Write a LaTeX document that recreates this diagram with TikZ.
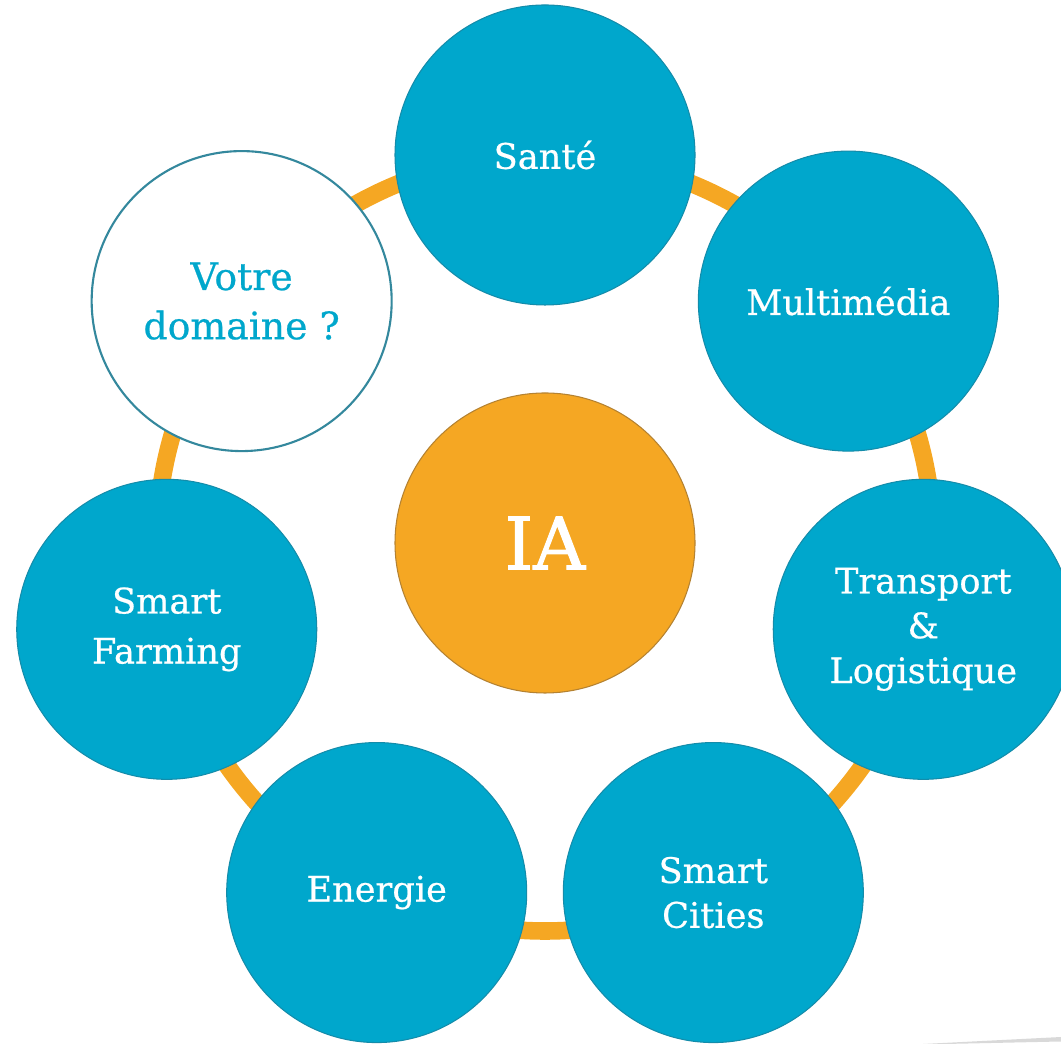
\documentclass[tikz,border=0pt]{standalone}
\usepackage{fontspec}
\usetikzlibrary{positioning}
\usetikzlibrary{calc}
\newfontfamily\domfont[FakeBold=0.6]{DejaVu Serif}
\newfontfamily\corefont[FakeBold=1.4]{DejaVu Serif}
\definecolor{domfill}{RGB}{0,167,204}
\definecolor{domedge}{RGB}{20,140,170}
\definecolor{iafill}{RGB}{245,167,35}
\definecolor{iaedge}{RGB}{180,130,50}
\tikzset{ring/.style={draw=iafill, line width=10pt}}
\tikzset{dom/.style={circle, draw=domedge, fill=domfill, line width=0.6pt, minimum size=6cm, inner sep=0pt, text=white, align=center, font=\domfont\fontsize{20}{25.5}\selectfont}}
\tikzset{free/.style={dom, fill=white, draw=domedge!70!gray, line width=1.2pt, text=domfill, font=\domfont\fontsize{21.5}{28}\selectfont}}
\tikzset{core/.style={circle, draw=iaedge, fill=iafill, line width=0.6pt, minimum size=6cm, inner sep=0pt, text=white, font=\corefont\fontsize{41}{48}\selectfont}}

\begin{document}
\begin{tikzpicture}
    \useasboundingbox (0,0) rectangle (21.22,20.88);
    \coordinate (c) at (10.9,10.02);

    \draw[ring] (c) circle (7.76);

    \node[core] (ia) at (c) {IA};

    \node[dom] (sante) at ($(c)+(90:7.76)$) {Santé};
    \node[dom] (multi) at ($(c)+(38.57:7.76)$) {Multimédia};
    \node[dom] (transport) at ($(c)+(-12.86:7.76)$) {Transport\\\&\\Logistique};
    \node[dom] (cities) at ($(c)+(-64.29:7.76)$) {Smart\\Cities};
    \node[dom] (energie) at ($(c)+(-115.71:7.76)$) {Energie};
    \node[dom, font=\domfont\fontsize{20}{28.5}\selectfont] (farming) at ($(c)+(-167.14:7.76)$) {Smart\\Farming};
    \node[free] (votre) at ($(c)+(141.43:7.76)$) {Votre\\domaine ?};

    % slide shadow
    \fill[black!15] (18.46,0) -- (21.22,0.14) -- (21.22,0.05) -- (18.9,0) -- cycle;
\end{tikzpicture}
\end{document}
